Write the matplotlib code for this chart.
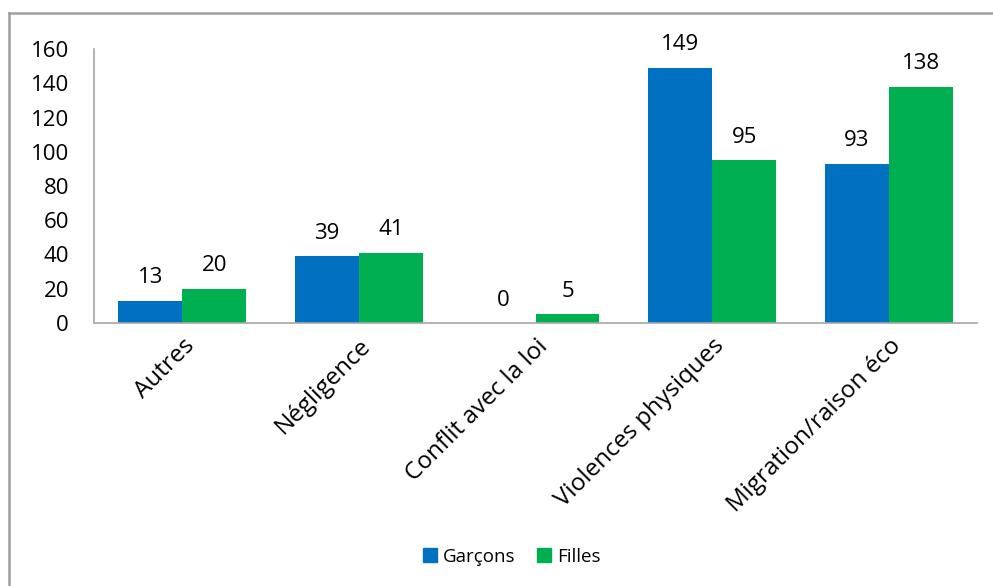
import numpy as np
import matplotlib.pyplot as plt
from matplotlib.lines import Line2D

plt.rcParams['font.family'] = ['Open Sans', 'DejaVu Sans']

categories = ["Autres", "Négligence", "Conflit avec la loi",
              "Violences physiques", "Migration/raison éco"]
garcons = [13, 39, 0, 149, 93]
filles = [20, 41, 5, 95, 138]
series_names = ["Garçons", "Filles"]
colors = ["#0070C0", "#00B050"]

fig = plt.figure(figsize=(9.93, 5.86), dpi=100)
ax = fig.add_axes([94 / 993, 1 - 323 / 586, (977 - 94) / 993, (323 - 49) / 586])

x = np.arange(len(categories))
w = 0.362
b1 = ax.bar(x - w / 2, garcons, w, color=colors[0], label=series_names[0])
b2 = ax.bar(x + w / 2, filles, w, color=colors[1], label=series_names[1])

for bars, vals in ((b1, garcons), (b2, filles)):
    for rect, v in zip(bars, vals):
        ax.annotate(str(v), (rect.get_x() + rect.get_width() / 2, v),
                    xytext=(0, 9), textcoords="offset points",
                    ha="center", va="bottom", fontsize=16)

ax.set_xlim(-0.5, len(categories) - 0.5)
ax.set_ylim(0, 160)
ax.set_yticks(np.arange(0, 161, 20))
ax.set_xticks(x)
ax.set_xticklabels(categories, rotation=45, ha="right", rotation_mode="anchor",
                   fontsize=17.5)
ax.tick_params(axis="y", labelsize=16, length=0, pad=18)
ax.tick_params(axis="x", length=0, pad=8)
for s in ("top", "right"):
    ax.spines[s].set_visible(False)
for s in ("left", "bottom"):
    ax.spines[s].set_color("#A6A6A6")
    ax.spines[s].set_linewidth(1.2)

handles = [Line2D([], [], marker="s", linestyle="none", markersize=9.5,
                  color=c) for c in colors]
fig.legend(handles, series_names, loc="center", bbox_to_anchor=(512 / 993, 1 - 557 / 586),
           ncol=2, frameon=False, fontsize=13.5, handlelength=0.7,
           handletextpad=0.35, columnspacing=1.2)

# chart area border (only left/top visible in the crop)
fig.add_artist(Line2D([9 / 993, 9 / 993], [0, 1 - 13 / 586], color="#A0A0A0",
                      linewidth=1.8, transform=fig.transFigure))
fig.add_artist(Line2D([9 / 993, 1], [1 - 13 / 586, 1 - 13 / 586], color="#A0A0A0",
                      linewidth=1.8, transform=fig.transFigure))

fig.savefig("out.png", dpi=100, facecolor="white")
